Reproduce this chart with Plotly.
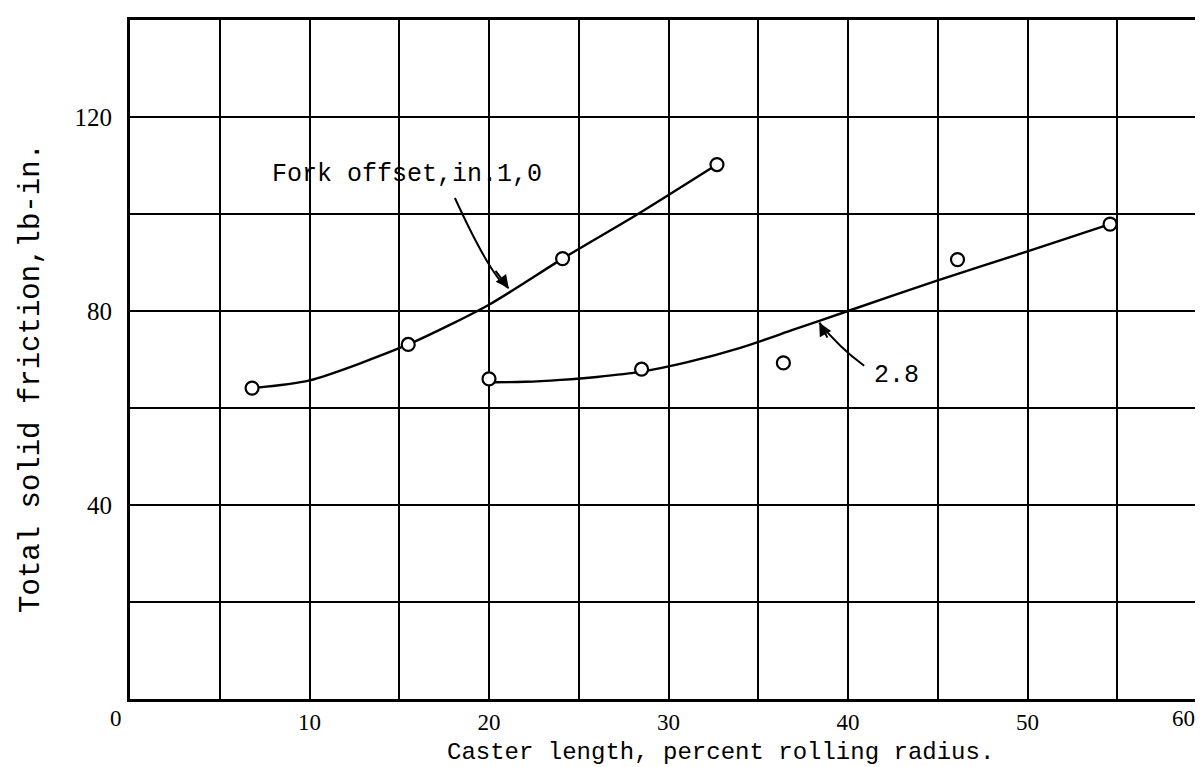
import plotly.graph_objects as go

# Fork offset 1.0 in. - measured points
s1_x = [6.8, 15.5, 24.1, 32.7]
s1_y = [64.1, 73.1, 90.8, 110.2]
# faired curve through 1.0 in. data
c1_x = [6.8, 10.0, 15.5, 20.0, 24.1, 28.3, 32.7]
c1_y = [64.1, 65.7, 73.1, 81.3, 90.8, 100.0, 110.2]

# Fork offset 2.8 in. - measured points
s2_x = [20.0, 28.5, 36.4, 46.1, 54.6]
s2_y = [66.0, 68.0, 69.3, 90.6, 97.9]
# faired curve through 2.8 in. data
c2_x = [20.0, 22.0, 24.0, 26.0, 28.5, 31.0, 34.0, 37.0, 40.0, 45.0, 50.0, 54.6]
c2_y = [65.3, 65.4, 65.8, 66.4, 67.5, 69.4, 72.4, 76.2, 80.0, 86.3, 92.3, 97.9]

x_ticks = [0, 5, 10, 15, 20, 25, 30, 35, 40, 45, 50, 55, 60]
x_ticktext = ["", "", "10", "", "20", "", "30", "", "40", "", "50", "", ""]
y_ticks = [0, 20, 40, 60, 80, 100, 120, 140]
y_ticktext = ["", "", "40", "", "80", "", "120", ""]

MONO = "Liberation Mono"
SERIF = "Liberation Serif"

fig = go.Figure()
for cx, cy in [(c1_x, c1_y), (c2_x, c2_y)]:
    fig.add_trace(go.Scatter(x=cx, y=cy, mode="lines",
                             line=dict(color="black", width=2.4, shape="spline", smoothing=0.7),
                             hoverinfo="skip", showlegend=False))
for sx, sy in [(s1_x, s1_y), (s2_x, s2_y)]:
    fig.add_trace(go.Scatter(x=sx, y=sy, mode="markers",
                             marker=dict(symbol="circle", size=13, color="white",
                                         line=dict(color="black", width=2.2)),
                             showlegend=False))

axis_common = dict(showline=True, linecolor="black", linewidth=3, mirror=True, showgrid=True,
                   gridcolor="black", gridwidth=2, zeroline=False, ticks="")
fig.update_xaxes(range=[0, 60], tickmode="array", tickvals=x_ticks, ticktext=x_ticktext,
                 ticklabelstandoff=0, tickfont=dict(family=SERIF, size=23, color="black"),
                 **axis_common)
fig.update_yaxes(range=[0, 140], tickmode="array", tickvals=y_ticks, ticktext=y_ticktext,
                 ticklabelstandoff=10, tickfont=dict(family=SERIF, size=25, color="black"),
                 **axis_common)

# curved leader lines
fig.add_shape(type="path", path="M 18.1,103.3 Q 20.2,86.4 21.1,84.7", xref="x", yref="y",
              line=dict(color="black", width=2))
fig.add_shape(type="path", path="M 40.9,68.7 Q 39.5,72.5 38.4,77.6", xref="x", yref="y",
              line=dict(color="black", width=2))

annotations = [
    dict(x=15.45, y=108.1, xref="x", yref="y", text="Fork offset,in.1,0", showarrow=False,
         font=dict(family=MONO, size=25, color="black")),
    dict(x=42.7, y=66.8, xref="x", yref="y", text="2.8", showarrow=False,
         font=dict(family=MONO, size=25, color="black")),
    dict(x=21.1, y=84.7, xref="x", yref="y", ax=20.3, ay=88.6, axref="x", ayref="y", text="",
         showarrow=True, arrowhead=2, arrowsize=1.3, arrowwidth=2, arrowcolor="black"),
    dict(x=38.4, y=77.6, xref="x", yref="y", ax=38.9, ay=74.2, axref="x", ayref="y", text="",
         showarrow=True, arrowhead=2, arrowsize=1.3, arrowwidth=2, arrowcolor="black"),
    dict(x=32.9, y=0, xref="x", yref="paper", yanchor="middle", yshift=-53,
         text="Caster length, percent rolling radius.", showarrow=False,
         font=dict(family=MONO, size=24, color="black")),
    dict(x=0, y=66.2, xref="paper", yref="y", xanchor="center", xshift=-98, textangle=-90,
         text="Total solid friction,lb-in.", showarrow=False,
         font=dict(family=MONO, size=29, color="black")),
    dict(x=0, y=0, xref="paper", yref="paper", xanchor="center", yanchor="middle",
         xshift=-14, yshift=-19, text="0", showarrow=False,
         font=dict(family=SERIF, size=23, color="black")),
    dict(x=1, y=0, xref="paper", yref="paper", xanchor="right", yanchor="middle",
         xshift=-10, yshift=-19, text="60", showarrow=False,
         font=dict(family=SERIF, size=23, color="black")),
]
fig.update_layout(width=1203, height=767, margin=dict(l=122, r=1, t=12, b=76),
                  paper_bgcolor="white", plot_bgcolor="white", annotations=annotations)

fig.write_html("out.html")
